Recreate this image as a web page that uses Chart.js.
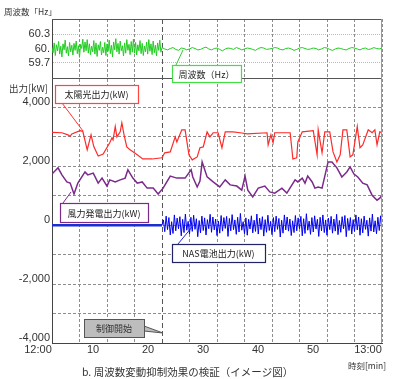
<!DOCTYPE html>
<html>
<head>
<meta charset="utf-8">
<script src="https://cdn.jsdelivr.net/npm/chart.js@4.4.1/dist/chart.umd.min.js"></script>
<style>
  body { margin: 0; background: #fff; }
  #wrap { position: relative; width: 400px; height: 379px; }
</style>
</head>
<body>
<div id="wrap"><canvas id="chart"></canvas></div>
<script>
// time axis: minutes after 12:00
const timeTicks = [0, 5, 10, 15, 20, 25, 30, 35, 40, 45, 50, 55, 60];
const timeLabels = { 0: "12:00", 10: "10", 20: "20", 30: "30", 40: "40", 50: "50", 60: "13:00" };
const controlStart = 20;

// frequency [Hz] - before control (every 0.2 min from 0)
const freqBeforeStep = 0.2;
const freqBefore = [
  60.02, 59.91, 60.12, 59.85, 60.08, 59.95, 60.15, 59.88, 60.05, 59.82, 60.1, 59.97, 60.18, 59.9, 60.04, 59.84, 60.13, 59.93, 60.07, 59.86,
  60.11, 59.96, 60.16, 59.89, 60.06, 59.81, 60.09, 60.0, 60.2, 59.92, 60.14, 59.95, 60.19, 59.9, 60.1, 59.87, 60.05, 59.93, 60.17, 59.88,
  60.12, 59.83, 60.08, 59.96, 60.15, 59.86, 60.03, 59.91, 60.13, 59.85, 60.1, 59.94, 60.18, 59.89, 60.07, 59.82, 60.14, 59.97, 60.21, 59.93,
  60.11, 59.88, 60.16, 59.95, 60.06, 59.84, 60.12, 59.9, 60.19, 59.96, 60.09, 59.87, 60.15, 59.92, 60.2, 59.9, 60.13, 59.86, 60.08, 59.95,
  60.17, 59.89, 60.11, 59.85, 60.05, 59.93, 60.14, 59.88, 60.19, 59.94, 60.1, 59.87, 60.16, 59.91, 60.07, 59.84, 60.12, 59.96, 60.18, 59.92, 60.02
];
// frequency [Hz] - after control (every 0.5 min from 20.5)
const freqAfterStep = 0.5;
const freqAfter = [
  59.99, 59.97, 60.0, 60.02, 59.98, 59.96, 60.01, 60.0, 59.97, 59.99,
  60.02, 60.0, 59.97, 59.98, 60.01, 60.03, 59.99, 59.97, 60.0, 60.01,
  59.98, 59.95, 59.99, 60.01, 60.0, 59.98, 60.02, 60.0, 59.97, 59.99,
  60.01, 60.0, 59.98, 59.96, 60.0, 60.02, 60.01, 59.98, 59.99, 60.0,
  60.02, 60.01, 59.98, 59.97, 60.0, 60.01, 59.99, 59.96, 59.98, 60.01,
  60.02, 60.0, 59.98, 59.99, 60.01, 60.0, 59.97, 59.99, 60.02, 60.01,
  59.98, 59.96, 59.99, 60.01, 60.0, 59.98, 59.97, 60.0, 60.02, 60.01,
  59.99, 59.97, 60.0, 60.01, 59.98, 59.99, 60.02, 60.0, 59.99, 60.01
];

// solar output [kW]
const solarMin = [0, 1.8, 2.9, 3.3, 3.6, 5.1, 5.6, 6.4, 7.1, 7.6, 8.4, 9.3, 10.5, 10.9, 11.1, 11.5, 11.8, 12.4, 12.7, 13.1,
  13.6, 14.2, 15.5, 16.5, 18.2, 20.0, 20.5, 21.5, 22.4, 22.7, 23.6, 24.2, 24.9, 25.5, 26.4, 26.9, 27.5, 28.2, 28.7, 29.3,
  30.2, 30.9, 31.5, 32.9, 34.2, 35.5, 39.1, 39.3, 39.8, 40.2, 40.5, 43.3, 43.8, 44.5, 44.7, 45.5, 47.5, 48.2, 48.4, 49.1,
  49.6, 50.5, 51.1, 51.8, 52.4, 52.9, 53.6, 54.2, 54.7, 55.5, 56.0, 56.5, 57.5, 58.2, 58.7, 59.1, 59.6, 60];
const solarKw = [3150, 3140, 3070, 3020, 3100, 3210, 3190, 2560, 3070, 2670, 2350, 2420, 2800, 2970, 2900, 3350, 3000, 3170, 3480, 3070,
  2660, 2560, 2390, 2250, 2250, 2290, 2460, 2490, 3000, 2830, 3240, 3240, 2390, 2220, 2320, 2630, 2660, 3170, 3000, 3140,
  3140, 2630, 3170, 3170, 3140, 3100, 3140, 2730, 3070, 2800, 3140, 3140, 2250, 2290, 2830, 3170, 3210, 2390, 3240, 2460,
  3170, 3170, 2490, 2150, 2390, 3240, 3240, 2320, 2390, 3350, 2630, 2730, 3240, 3140, 3240, 2730, 3170, 3140];

// wind output [kW]
const windMin = [0, 1.1, 1.8, 2.7, 3.3, 4.0, 4.7, 6.0, 6.5, 7.5, 8.4, 9.1, 10.0, 10.5, 11.5, 12.4, 13.3, 13.8, 14.7, 15.5,
  16.4, 17.3, 18.4, 19.3, 20.2, 21.5, 22.7, 24.2, 25.3, 25.6, 26.4, 26.9, 27.3, 28.2, 29.3, 30.5, 31.5, 32.4, 33.6, 34.5,
  35.1, 35.6, 36.5, 37.5, 38.7, 39.6, 40.5, 41.8, 42.7, 44.2, 44.7, 45.5, 46.0, 46.5, 47.3, 47.8, 48.4, 49.1, 50.2, 50.9,
  51.8, 52.7, 53.6, 54.2, 54.9, 55.6, 56.5, 57.3, 58.2, 59.1, 59.6, 60];
const windKw = [1740, 1950, 1710, 1470, 1430, 1060, 1430, 1810, 1710, 1770, 1430, 1600, 1330, 1540, 1470, 1540, 1600, 1880, 1600, 1430,
  1470, 1260, 1260, 1060, 1260, 1670, 1600, 1600, 1880, 1640, 1300, 1500, 2150, 1640, 1470, 1300, 1540, 1370, 1330, 1190,
  1670, 1190, 960, 1260, 1330, 1130, 1090, 1260, 1090, 1540, 1470, 1600, 1430, 1670, 1470, 1260, 1300, 1260, 2150, 2150,
  1950, 1640, 1810, 1980, 1740, 1640, 1430, 1370, 1020, 850, 920, 1020];

// NAS battery output [kW]: idle until control start, then every 0.25 min
const nasIdleMin = [0, 20];
const nasIdleKw = [0, 0];
const nasStep = 0.25;
const nasKw = [
  0, 180, -220, 310, -150, 260, -330, 120, -280, 350, -190, 240, -120, 290, -360, 200, -250, 380, -170, 130,
  -300, 270, -210, 340, -140, 220, -390, 160, -260, 310, -180, 250, -330, 190, -120, 370, -240, 280, -160, 210,
  -350, 140, -270, 330, -200, 260, -110, 300, -380, 230, -190, 360, -150, 180, -310, 270, -230, 400, -170, 120,
  -290, 250, -340, 200, -130, 320, -260, 170, -210, 380, -300, 240, -150, 290, -370, 190, -240, 340, -180, 130,
  -320, 260, -220, 310, -140, 230, -400, 170, -270, 350, -160, 280, -200, 210, -350, 150, -250, 330, -190, 250,
  -120, 300, -360, 220, -280, 390, -170, 140, -310, 260, -230, 320, -130, 200, -380, 270, -190, 350, -250, 180,
  -340, 240, -150, 300, -270, 210, -200, 370, -320, 160, -240, 290, -120, 330, -390, 230, -180, 260, -300, 190,
  -210, 350, -160, 280, -340, 220, -260, 310, -140, 170, -370, 250, -200, 380, -230, 150, -290, 270, -180, 320,
  -120
];

const freqTicks = [59.7, 60, 60.3];

// build points
const freqPts = freqBefore.map((v, i) => ({ x: i * freqBeforeStep, y: v }))
  .concat(freqAfter.map((v, i) => ({ x: controlStart + (i + 1) * freqAfterStep, y: v })));
const pair = (xs, ys) => xs.map((x, i) => ({ x: x, y: ys[i] }));
const nasPts = nasKw.map((v, i) => ({ x: controlStart + i * nasStep, y: v }));

const jpFont = "'Noto Sans CJK JP', sans-serif";

// callout boxes (pixel layout)
const notes = [
  { text: "周波数（Hz）", stroke: "#44dd44", fill: "#fff", box: [172, 65, 69, 17], line: [[176, 65], [183, 50]], lineColor: "#33cc33" },
  { text: "太陽光出力(kW)", stroke: "#ff4444", fill: "#fff", box: [55, 85, 83, 18], line: [[62, 103], [83, 131]], lineColor: "#ff3333" },
  { text: "風力発電出力(kW)", stroke: "#7a2a8a", fill: "#fff", box: [60, 203, 88, 19], line: [[63, 203], [71, 192]], lineColor: "#7a2a8a" },
  { text: "NAS電池出力(kW)", stroke: "#222266", fill: "#fff", box: [172, 244, 93, 18], line: [[178, 244], [192, 227]], lineColor: "#2222ee" }
];

const notesPlugin = {
  id: "notes",
  afterDatasetsDraw(chart) {
    const c = chart.ctx;
    const a = chart.chartArea;
    const yTop = chart.scales.yf;
    c.save();
    // frame
    c.strokeStyle = "#555";
    c.lineWidth = 1;
    c.beginPath();
    c.moveTo(a.left, a.top + 0.5);
    c.lineTo(a.right, a.top + 0.5);
    c.moveTo(a.left, yTop.bottom + 0.5);
    c.lineTo(a.right, yTop.bottom + 0.5);
    c.stroke();
    c.strokeStyle = "#999";
    c.beginPath();
    c.moveTo(a.right - 0.5, a.top);
    c.lineTo(a.right - 0.5, a.bottom);
    c.stroke();

    c.font = "9px " + jpFont;
    c.textAlign = "center";
    c.textBaseline = "middle";
    notes.forEach((n) => {
      c.strokeStyle = n.lineColor;
      c.lineWidth = 1;
      c.beginPath();
      c.moveTo(n.line[0][0], n.line[0][1]);
      c.lineTo(n.line[1][0], n.line[1][1]);
      c.stroke();
      const [x, y, w, h] = n.box;
      c.fillStyle = n.fill;
      c.fillRect(x, y, w, h);
      c.strokeStyle = n.stroke;
      c.lineWidth = 1.2;
      c.strokeRect(x + 0.5, y + 0.5, w, h);
      c.fillStyle = "#222";
      c.fillText(n.text, x + w / 2, y + h / 2 + 1);
    });

    // control start callout
    c.fillStyle = "#bdbdbd";
    c.strokeStyle = "#555";
    c.lineWidth = 1;
    c.beginPath();
    c.moveTo(144, 326);
    c.lineTo(163, 333);
    c.lineTo(144, 331);
    c.closePath();
    c.fill();
    c.stroke();
    c.fillRect(84, 319, 60, 18);
    c.strokeRect(84.5, 319.5, 60, 18);
    c.fillStyle = "#333";
    c.fillText("制御開始", 114, 329);

    // axis titles and caption
    c.fillStyle = "#333";
    c.textAlign = "left";
    c.font = "8.5px " + jpFont;
    c.fillText("周波数「Hz」", 4, 12);
    c.font = "9.5px " + jpFont;
    c.fillText("出力[kW]", 9, 88);
    c.font = "8.5px " + jpFont;
    c.fillText("時刻[min]", 348, 366);
    c.font = "10.5px " + jpFont;
    c.fillText("b. 周波数変動抑制効果の検証（イメージ図）", 82, 372);
    c.restore();
  }
};

const ctx = document.getElementById("chart").getContext("2d");
const chart = new Chart(ctx, {
  type: "line",
  data: {
    datasets: [
      { label: "周波数", data: freqPts, yAxisID: "yf", borderColor: "#22cc22", borderWidth: 1 },
      { label: "太陽光出力", data: pair(solarMin, solarKw), yAxisID: "y", borderColor: "#ff2a2a", borderWidth: 1.2 },
      { label: "風力発電出力", data: pair(windMin, windKw), yAxisID: "y", borderColor: "#7b2a8c", borderWidth: 1.5 },
      { label: "NAS電池出力(待機)", data: pair(nasIdleMin, nasIdleKw), yAxisID: "y", borderColor: "#1a2fd0", borderWidth: 2.5 },
      { label: "NAS電池出力", data: nasPts, yAxisID: "y", borderColor: "#0000ee", borderWidth: 1 }
    ]
  },
  options: {
    responsive: true,
    maintainAspectRatio: false,
    animation: false,
    layout: { padding: { top: 19, right: 18, left: 0, bottom: 0 } },
    elements: { point: { radius: 0 }, line: { tension: 0 } },
    plugins: { legend: { display: false }, tooltip: { enabled: false } },
    scales: {
      x: {
        type: "linear",
        min: 0,
        max: 60,
        afterBuildTicks: (s) => { s.ticks = timeTicks.map((v) => ({ value: v })); },
        afterFit: (s) => { s.height = 36; },
        ticks: {
          callback: (v) => timeLabels[v] || "",
          autoSkip: false,
          maxRotation: 0,
          padding: 0,
          labelOffset: -14,
          color: "#333",
          font: { size: 11, family: "'Liberation Sans', Arial, sans-serif" }
        },
        grid: {
          drawTicks: false,
          color: (c) => (c.tick && c.tick.value === controlStart ? "#555" : "#8c8c8c")
        },
        border: {
          color: "#444",
          dash: (c) => (c.tick && c.tick.value === controlStart ? [5, 3] : [3, 2])
        }
      },
      y: {
        type: "linear",
        position: "left",
        stack: "panels",
        stackWeight: 265,
        weight: 1,
        min: -4000,
        max: 5000,
        afterBuildTicks: (s) => {
          const t = [];
          for (let v = -4000; v <= 5000; v += 1000) t.push({ value: v });
          s.ticks = t;
        },
        afterFit: (s) => { s.width = 52; },
        ticks: {
          callback: (v) => (v % 2000 === 0 ? v.toLocaleString("en-US") : ""),
          padding: 2,
          labelOffset: -5,
          color: "#333",
          font: { size: 11, family: "'Liberation Sans', Arial, sans-serif" }
        },
        grid: {
          drawTicks: false,
          color: (c) => (c.tick && c.tick.value === 5000 ? "#555" : "#8c8c8c")
        },
        border: { color: "#444", dash: [3, 2] }
      },
      yf: {
        type: "linear",
        position: "left",
        stack: "panels",
        stackWeight: 59,
        weight: 2,
        min: 59.37,
        max: 60.63,
        afterBuildTicks: (s) => { s.ticks = freqTicks.map((v) => ({ value: v })); },
        afterFit: (s) => { s.width = 52; },
        ticks: {
          callback: (v) => (v === 60 ? "60." : v.toFixed(1)),
          padding: 2,
          color: "#333",
          font: { size: 11, family: "'Liberation Sans', Arial, sans-serif" }
        },
        grid: {
          drawTicks: false,
          color: (c) => (c.tick && c.tick.value === 60 ? "rgba(0,0,0,0)" : "#bbb")
        },
        border: { color: "#444", dash: [1, 1] }
      }
    }
  },
  plugins: [notesPlugin]
});
</script>
</body>
</html>
